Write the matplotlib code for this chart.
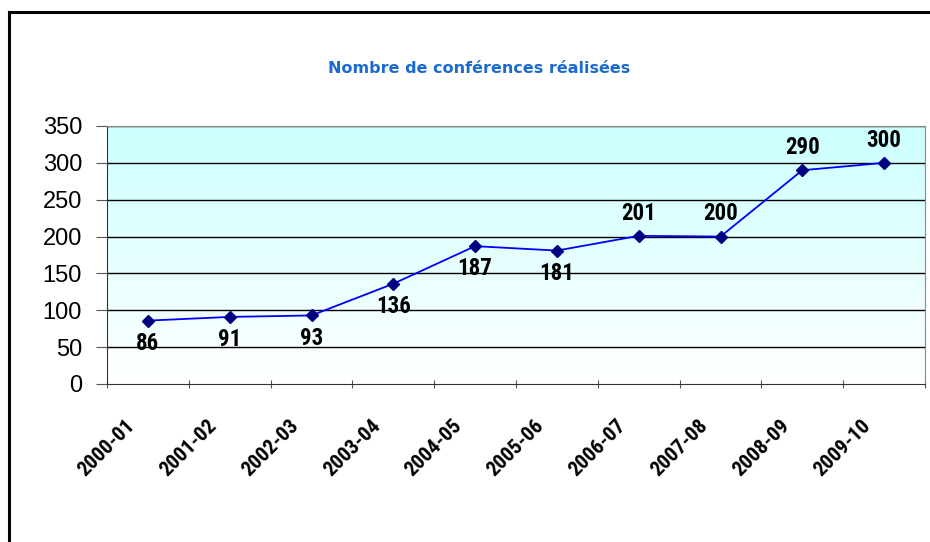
import numpy as np
import matplotlib
matplotlib.use("Agg")
from matplotlib import pyplot as plt
from matplotlib import font_manager
from matplotlib.colors import LinearSegmentedColormap
from matplotlib.patches import Rectangle
from matplotlib.transforms import ScaledTranslation

seasons = ['2000-01', '2001-02', '2002-03', '2003-04', '2004-05',
           '2005-06', '2006-07', '2007-08', '2008-09', '2009-10']
conferences = [86, 91, 93, 136, 187, 181, 201, 200, 290, 300]
# where each value label sits relative to its point
label_above = [False, False, False, False, False, False, True, True, True, True]

TITLE = 'Nombre de conférences réalisées'

# pick a narrow font for the labels if one is installed
names = sorted({f.name for f in font_manager.fontManager.ttflist})
narrow = None
for cand in ['Liberation Sans Narrow', 'Roboto Condensed', 'Open Sans Condensed',
             'DejaVu Sans Condensed', 'Noto Sans Condensed']:
    if cand in names:
        narrow = cand
        break
if narrow is None:
    for n in names:
        if 'Narrow' in n or 'Condensed' in n:
            narrow = n
            break
if narrow is None:
    narrow = 'Roboto'

fig = plt.figure(figsize=(9.3, 5.42), dpi=100)
W, H = 930, 542
ax = fig.add_axes([107 / W, 1 - 384 / H, (925 - 107) / W, (384 - 126) / H])

# background gradient, light cyan at top to white
cmap = LinearSegmentedColormap.from_list('bg', ['#ffffff', '#ccffff'])
grad = np.linspace(0, 1, 256).reshape(-1, 1)
ax.imshow(grad, cmap=cmap, aspect='auto', origin='lower',
          extent=[-0.5, len(seasons) - 0.5, 0, 350], zorder=0)

x = np.arange(len(seasons))
for y in range(50, 351, 50):
    ax.axhline(y, color='black', lw=1, zorder=1)
ax.plot(x, conferences, color='#0000ff', lw=1.3, zorder=3)
ax.plot(x, conferences, ls='none', marker='D', ms=6.5, color='#000080', zorder=4)

for xi, v, up in zip(x, conferences, label_above):
    off = 8 if up else -8
    ax.annotate(str(v), (xi, v), xytext=(0, off), textcoords='offset points',
                ha='center', va='bottom' if up else 'top',
                fontsize=16.5, fontweight='bold', family=narrow)

ax.set_xlim(-0.5, len(seasons) - 0.5)
ax.set_ylim(0, 350)
ax.set_yticks(range(0, 351, 50))
ax.set_yticklabels([str(v) for v in range(0, 351, 50)], family='Liberation Sans', fontsize=17)
ax.set_xticks(np.arange(-0.5, len(seasons), 1))
ax.set_xticklabels([])
ax.set_xticks(x, minor=True)
ax.set_xticklabels(seasons, minor=True, rotation=45, ha='right', va='center',
                   rotation_mode='anchor', fontsize=15, fontweight='bold', family=narrow)
ax.tick_params(axis='x', which='minor', length=0, pad=28)
shift = ScaledTranslation(-16 / 100, 0, fig.dpi_scale_trans)
for lab in ax.get_xticklabels(minor=True):
    lab.set_transform(lab.get_transform() + shift)
ax.tick_params(axis='x', which='major', length=6, direction='inout', color='#555555')
ax.tick_params(axis='y', length=8, direction='out', color='#555555', pad=10)

ax.spines['left'].set_color('#333333')
ax.spines['bottom'].set_color('#333333')
ax.spines['top'].set_color('#888888')
ax.spines['right'].set_color('#888888')

fig.text(479 / W, 1 - 69 / H, TITLE, color='#1a6ad2', fontsize=11.5,
         fontweight='bold', ha='center', va='center')

# outer frame
fig.patches.append(Rectangle((9 / W, -0.05), 1.0, 1 - 12 / H + 0.05,
                             transform=fig.transFigure, fill=False,
                             edgecolor='black', lw=2.2))

fig.savefig('out.png', dpi=100)
